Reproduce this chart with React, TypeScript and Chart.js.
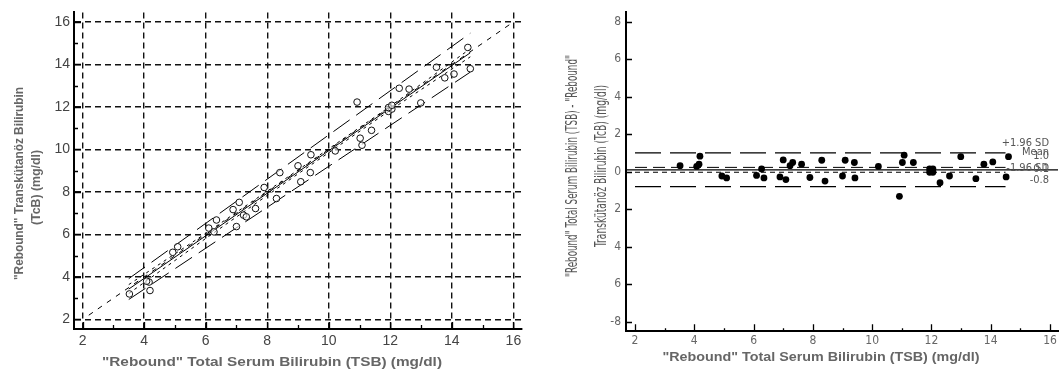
import { useEffect, useRef } from "react";
import { Chart, registerables } from "chart.js";

Chart.register(...registerables);

// ---------- data ----------
const tsb = [3.52, 4.19, 4.16, 4.08, 4.93, 5.09, 6.10, 6.35, 6.27, 7.00, 7.23, 7.32, 7.62, 6.89, 7.09, 7.90, 8.30, 8.41, 9.09, 9.40, 9.00, 9.42, 10.21, 10.92, 11.08, 11.02, 11.39, 11.94, 12.05, 11.94, 12.05, 12.29, 12.61, 12.99, 13.50, 13.77, 14.07, 14.52, 14.60];
const tcb = [3.20, 3.36, 3.76, 3.80, 5.16, 5.42, 6.30, 6.68, 6.12, 6.37, 6.91, 6.83, 7.22, 7.17, 7.51, 8.21, 7.69, 8.91, 8.48, 8.91, 9.23, 9.75, 9.93, 12.23, 10.20, 10.53, 10.90, 11.79, 11.90, 11.97, 12.08, 12.88, 12.84, 12.19, 13.87, 13.37, 13.55, 14.80, 13.80];
const diffTsbTcb = [0.32, 0.83, 0.40, 0.28, -0.23, -0.33, -0.20, -0.33, 0.15, 0.63, 0.32, 0.49, 0.40, -0.28, -0.42, -0.31, 0.61, -0.50, 0.61, 0.49, -0.23, -0.33, 0.28, -1.31, 0.88, 0.49, 0.49, 0.15, 0.15, -0.03, -0.03, -0.59, -0.23, 0.80, -0.37, 0.40, 0.52, -0.28, 0.80];

const identityX = [2.2, 15.9];
const identityY = [2.2, 15.9];
const regX = [3.5, 14.6];
const regY = [3.43, 14.55];
const bandUpperY = [3.92, 15.47];
const bandLowerY = [2.94, 13.64];
const ciX = [3.5, 6.0, 9.0, 12.0, 14.6];
const ciUpperY = [3.64, 6.05, 9.03, 12.03, 14.74];
const ciLowerY = [3.22, 5.81, 8.85, 11.85, 14.36];

const leftTicks = [2, 4, 6, 8, 10, 12, 14, 16];
const baTicksX = [2, 4, 6, 8, 10, 12, 14, 16];
const baTicksY = [-8, -6, -4, -2, 0, 2, 4, 6, 8];
const baTickLabelsY = ["-8", "6", "4", "2", "0", "2", "4", "6", "8"];

const baUpper = 1.0;
const baMean = 0.1;
const baLower = -0.8;
const baMeanCiUpper = 0.23;
const baMeanCiLower = -0.03;
const baLimitX = [2, 14.5];
const baMeanX = [1.7, 16.27];
const baLabelTexts = ["+1.96 SD", "1.0", "Mean", "0.1", "-1.96 SD", "-0.8"];

const titleLeftX = '"Rebound" Total Serum Bilirubin (TSB) (mg/dl)';
const titleLeftY = ['"Rebound" Transkütanöz Bilirubin', "(TcB) (mg/dl)"];
const titleRightX = '"Rebound" Total Serum Bilirubin (TSB) (mg/dl)';
const titleRightY = ['"Rebound" Total Serum Bilirubin (TSB) - "Rebound"', "Transkütanöz Bilirubin (TcB) (mg/dl)"];

// ---------- helpers ----------
const SANS = '"Liberation Sans", Arial, Helvetica, sans-serif';
const NARROW = '"Liberation Sans Narrow", "DejaVu Sans Condensed", "Liberation Sans", Arial, sans-serif';

const pts = (xs: number[], ys: number[]) => xs.map((x, i) => ({ x, y: ys[i] }));
const hline = (xs: number[], v: number) => xs.map((x) => ({ x, y: v }));

function fitText(ctx: CanvasRenderingContext2D, text: string, cx: number, cy: number, rot: number, font: string, color: string, width: number) {
  ctx.save();
  ctx.translate(cx, cy);
  ctx.rotate(rot);
  ctx.font = font;
  const w = ctx.measureText(text).width;
  ctx.scale(width / w, 1);
  ctx.textAlign = "center";
  ctx.textBaseline = "middle";
  ctx.fillStyle = color;
  ctx.fillText(text, 0, 0);
  ctx.restore();
}

function drawTicks(chart: any, majX: number, minX: number, majY: number, minY: number, lw: number) {
  const { ctx, chartArea: a, scales } = chart;
  const x = scales.x, y = scales.y;
  ctx.save();
  ctx.strokeStyle = "#000";
  ctx.lineWidth = lw;
  ctx.beginPath();
  for (let v = Math.ceil(x.min); v <= x.max; v++) {
    const len = v % 2 === 0 ? majX : minX;
    if (!len) continue;
    const px = Math.round(x.getPixelForValue(v)) + 0.5;
    ctx.moveTo(px, a.bottom);
    ctx.lineTo(px, a.bottom - len);
  }
  for (let v = Math.ceil(y.min); v <= y.max; v++) {
    const len = v % 2 === 0 ? majY : minY;
    if (!len) continue;
    const py = Math.round(y.getPixelForValue(v)) + 0.5;
    ctx.moveTo(a.left, py);
    ctx.lineTo(a.left + len, py);
  }
  ctx.stroke();
  ctx.restore();
}

const leftDecor = {
  id: "leftDecor",
  afterDraw(chart: any) {
    drawTicks(chart, 7, 4, 7, 4, 1.3);
    const { ctx } = chart;
    fitText(ctx, titleLeftX, 272, 362.7, 0, `bold 13px ${SANS}`, "#666", 340);
    fitText(ctx, titleLeftY[0], 20, 183.5, -Math.PI / 2, `bold 12px ${SANS}`, "#666", 193);
    fitText(ctx, titleLeftY[1], 37, 187.5, -Math.PI / 2, `bold 12px ${SANS}`, "#666", 75);
  },
};

const rightDecor = {
  id: "rightDecor",
  afterDraw(chart: any) {
    drawTicks(chart, 7, 3, 6, 0, 1.3);
    const { ctx, scales } = chart;
    const x = scales.x, y = scales.y;
    fitText(ctx, titleRightX, 281, 358, 0, `bold 12px ${SANS}`, "#666", 317);
    fitText(ctx, titleRightY[0], 33, 166, -Math.PI / 2, `15px ${NARROW}`, "#555", 222);
    fitText(ctx, titleRightY[1], 62, 166, -Math.PI / 2, `15px ${NARROW}`, "#555", 162);
    const rx = x.getPixelForValue(16) - 1;
    const ys = [
      y.getPixelForValue(baUpper) - 10,
      y.getPixelForValue(baUpper) + 3,
      y.getPixelForValue(baMean) - 18,
      y.getPixelForValue(baMean) - 1,
      y.getPixelForValue(baLower) - 19,
      y.getPixelForValue(baLower) - 7,
    ];
    ctx.save();
    ctx.font = `11px ${NARROW}`;
    ctx.fillStyle = "#555";
    ctx.textAlign = "right";
    ctx.textBaseline = "middle";
    baLabelTexts.forEach((t, i) => ctx.fillText(t, rx, ys[i]));
    ctx.restore();
  },
};

function useChart(ref: React.RefObject<HTMLCanvasElement | null>, build: () => any) {
  useEffect(() => {
    if (!ref.current) return;
    const chart = new Chart(ref.current, build());
    return () => chart.destroy();
  }, []);
}

const lineDs = (data: any[], dash: number[], width = 1) => ({
  type: "line" as const,
  data,
  showLine: true,
  borderColor: "#000",
  borderWidth: width,
  borderDash: dash,
  pointRadius: 0,
  fill: false,
  tension: 0,
});

function leftConfig() {
  return {
    type: "scatter",
    data: {
      datasets: [
        {
          type: "scatter",
          data: pts(tsb, tcb),
          pointRadius: 3.3,
          pointBorderWidth: 1,
          pointBorderColor: "#111",
          pointBackgroundColor: "rgba(255,255,255,0.6)",
        },
        lineDs(pts(regX, regY), []),
        lineDs(pts(ciX, ciUpperY), [3, 4]),
        lineDs(pts(ciX, ciLowerY), [3, 4]),
        lineDs(pts(regX, bandUpperY), [20, 8]),
        lineDs(pts(regX, bandLowerY), [20, 8]),
        lineDs(pts(identityX, identityY), [5, 6]),
      ],
    },
    options: {
      animation: false,
      responsive: false,
      events: [],
      layout: { padding: { left: 0, top: 11.6, right: 18, bottom: 0 } },
      plugins: { legend: { display: false }, tooltip: { enabled: false } },
      scales: {
        x: {
          type: "linear",
          min: 1.72,
          max: 16.28,
          afterBuildTicks: (s: any) => { s.ticks = leftTicks.map((v) => ({ value: v })); },
          afterFit: (s: any) => { s.height = 49; },
          grid: { color: "#111", lineWidth: 1.4, drawTicks: false },
          border: { display: true, color: "#000", width: 2, dash: [6, 4] },
          ticks: { padding: 4, color: "#444", font: { family: SANS, size: 14 }, maxRotation: 0, autoSkip: false },
        },
        y: {
          type: "linear",
          min: 1.55,
          max: 16.45,
          afterBuildTicks: (s: any) => { s.ticks = leftTicks.map((v) => ({ value: v })); },
          afterFit: (s: any) => { s.width = 74; },
          grid: { color: "#111", lineWidth: 1.4, drawTicks: false },
          border: { display: true, color: "#000", width: 2, dash: [6, 4] },
          ticks: { padding: 4, color: "#444", font: { family: SANS, size: 14 }, autoSkip: false },
        },
      },
    },
    plugins: [leftDecor],
  };
}

function rightConfig() {
  return {
    type: "scatter",
    data: {
      datasets: [
        {
          type: "scatter",
          data: pts(tsb, diffTsbTcb),
          pointRadius: 3.4,
          pointBorderWidth: 0,
          pointBackgroundColor: "#000",
        },
        lineDs(hline(baMeanX, baMean), [], 1.3),
        lineDs(hline(baLimitX, baMeanCiUpper), [12, 6]),
        lineDs(hline(baLimitX, baMeanCiLower), [5, 4]),
        lineDs(hline(baLimitX, baUpper), [26, 9], 1.2),
        lineDs(hline(baLimitX, baLower), [26, 9], 1.2),
      ],
    },
    options: {
      animation: false,
      responsive: false,
      events: [],
      layout: { padding: { left: 0, top: 1, right: 4, bottom: 0 } },
      plugins: { legend: { display: false }, tooltip: { enabled: false } },
      scales: {
        x: {
          type: "linear",
          min: 1.696,
          max: 16.27,
          afterBuildTicks: (s: any) => { s.ticks = baTicksX.map((v) => ({ value: v })); },
          afterFit: (s: any) => { s.height = 46.8; },
          grid: { display: false, drawTicks: false },
          border: { display: true, color: "#000", width: 2 },
          ticks: { padding: 2, color: "#666", font: { family: NARROW, size: 12 }, maxRotation: 0, autoSkip: false },
        },
        y: {
          type: "linear",
          min: -8.5,
          max: 8.5,
          afterBuildTicks: (s: any) => { s.ticks = baTicksY.map((v) => ({ value: v })); },
          afterFit: (s: any) => { s.width = 86; },
          grid: { display: false, drawTicks: false },
          border: { display: true, color: "#000", width: 2 },
          ticks: {
            padding: 5,
            color: "#666",
            font: { family: NARROW, size: 12 },
            autoSkip: false,
            callback: (_v: any, i: number) => baTickLabelsY[i],
          },
        },
      },
    },
    plugins: [rightDecor],
  };
}

export default function App() {
  const leftRef = useRef<HTMLCanvasElement | null>(null);
  const rightRef = useRef<HTMLCanvasElement | null>(null);
  useChart(leftRef, leftConfig);
  useChart(rightRef, rightConfig);
  return (
    <div style={{ position: "absolute", left: 0, top: 0, width: 1062, height: 378, background: "#fff" }}>
      <canvas ref={leftRef} width={540} height={378} style={{ position: "absolute", left: 0, top: 0 }} />
      <canvas ref={rightRef} width={522} height={378} style={{ position: "absolute", left: 540, top: 0 }} />
    </div>
  );
}
